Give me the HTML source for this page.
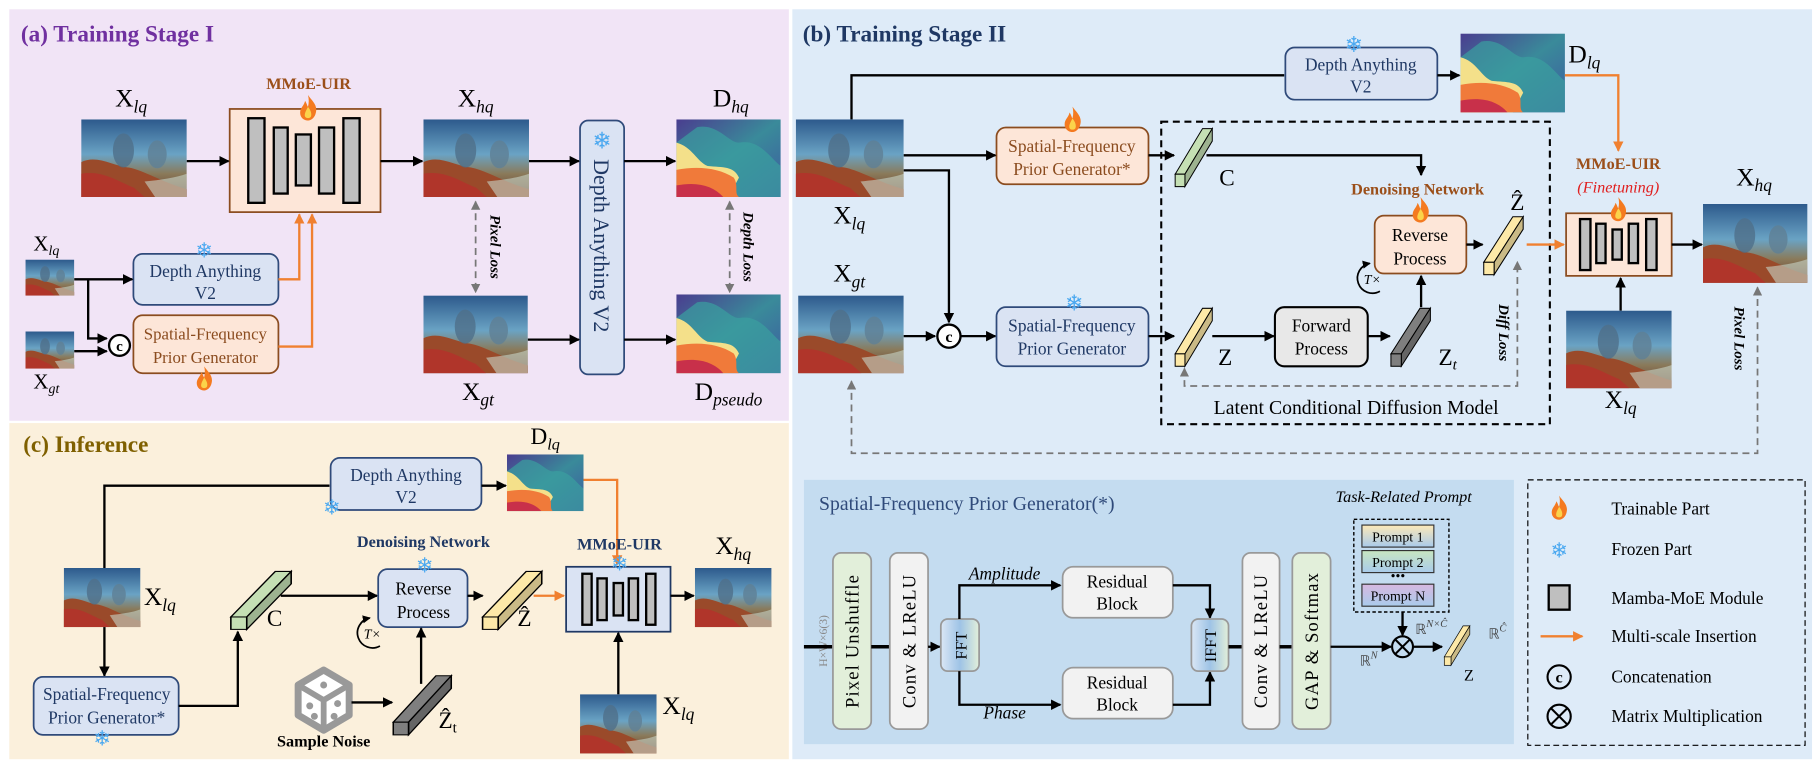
<!DOCTYPE html>
<html><head><meta charset="utf-8"><style>
html,body{margin:0;padding:0;background:#fff;}
svg{display:block;}
svg text,svg tspan{font-family:"Liberation Serif",serif;}
</style></head><body>
<svg width="1819" height="765" viewBox="0 0 1568 660" preserveAspectRatio="none" xmlns="http://www.w3.org/2000/svg" font-family="Liberation Serif, serif">
<defs>
<marker id="ab" markerWidth="9" markerHeight="9" refX="8" refY="4.5" orient="auto" markerUnits="userSpaceOnUse"><path d="M0,0 L9,4.5 L0,9 Z" fill="#000"/></marker>
<marker id="as" markerWidth="7" markerHeight="7" refX="6" refY="3.5" orient="auto" markerUnits="userSpaceOnUse"><path d="M0,0 L7,3.5 L0,7 Z" fill="#000"/></marker>
<marker id="ao" markerWidth="9" markerHeight="9" refX="8" refY="4.5" orient="auto" markerUnits="userSpaceOnUse"><path d="M0,0 L9,4.5 L0,9 Z" fill="#f08030"/></marker>
<marker id="ag" markerWidth="8" markerHeight="8" refX="7" refY="4" orient="auto" markerUnits="userSpaceOnUse"><path d="M0,0 L8,4 L0,8 Z" fill="#777"/></marker>
<marker id="ags" markerWidth="8" markerHeight="8" refX="1" refY="4" orient="auto" markerUnits="userSpaceOnUse"><path d="M8,0 L0,4 L8,8 Z" fill="#777"/></marker>
<linearGradient id="gw" x1="0" y1="0" x2="0" y2="1"><stop offset="0" stop-color="#2d5a8c"/><stop offset="0.45" stop-color="#6aa3c4"/><stop offset="0.7" stop-color="#8a7a5a"/><stop offset="1" stop-color="#6a3a2a"/></linearGradient>
<linearGradient id="gd" x1="0" y1="0" x2="1" y2="1"><stop offset="0" stop-color="#4a3d8f"/><stop offset="0.5" stop-color="#3a8a9a"/><stop offset="1" stop-color="#3d5aa0"/></linearGradient>
<linearGradient id="gbl" x1="0" y1="0" x2="1" y2="0"><stop offset="0" stop-color="#dbe7f5"/><stop offset="0.5" stop-color="#9ec3e6"/><stop offset="1" stop-color="#e2efda"/></linearGradient>
<linearGradient id="gp1" x1="0" y1="0" x2="0" y2="1"><stop offset="0" stop-color="#fde9b8"/><stop offset="1" stop-color="#a9cbeb"/></linearGradient>
<linearGradient id="gp2" x1="0" y1="0" x2="0" y2="1"><stop offset="0" stop-color="#c8e6c0"/><stop offset="1" stop-color="#a9cbeb"/></linearGradient>
<linearGradient id="gp3" x1="0" y1="0" x2="0" y2="1"><stop offset="0" stop-color="#d7b8e0"/><stop offset="1" stop-color="#a9cbeb"/></linearGradient>
<symbol id="uw" viewBox="0 0 100 100" preserveAspectRatio="none">
<rect width="100" height="100" fill="url(#gw)"/>
<path d="M0,55 C15,45 30,60 45,62 C60,66 75,80 100,90 L100,100 L0,100Z" fill="#9a4a2a"/>
<path d="M0,70 C20,65 35,80 50,88 L60,100 L0,100Z" fill="#b5302a" opacity="0.8"/>
<ellipse cx="40" cy="40" rx="10" ry="22" fill="#4f6f8a" opacity="0.8"/>
<ellipse cx="72" cy="45" rx="9" ry="18" fill="#5f7f95" opacity="0.8"/>
<path d="M60,80 C75,78 90,75 100,70 L100,100 L70,100Z" fill="#c8d6c8" opacity="0.6"/>
</symbol>
<symbol id="dp" viewBox="0 0 100 100" preserveAspectRatio="none">
<rect width="100" height="100" fill="url(#gd)"/>
<path d="M20,10 C40,5 50,30 60,30 C80,25 90,50 100,60 L100,100 L0,100 L0,30 Z" fill="#3aa0a0" opacity="0.7"/>
<path d="M0,30 C15,35 20,55 30,60 C45,62 55,60 60,75 L50,100 L0,100Z" fill="#f4e08a"/>
<path d="M0,65 C20,60 40,62 55,75 C60,85 55,95 60,100 L0,100Z" fill="#f07a3a"/>
<path d="M0,85 C20,80 35,85 45,100 L0,100Z" fill="#c8304a"/>
</symbol>
<symbol id="cub" viewBox="0 0 38 56" preserveAspectRatio="none" overflow="visible">
<polygon points="0,44 10,44 38,0 28,0" stroke="#000" stroke-width="1"/>
<polygon points="10,44 10,56 38,12 38,0" stroke="#000" stroke-width="1"/>
<polygon points="10,44 10,56 38,12 38,0" fill="#000" opacity="0.2"/>
<rect x="0" y="44" width="10" height="12" stroke="#000" stroke-width="1"/>
</symbol>
<symbol id="fl" viewBox="0 0 20 26">
<path d="M10 0 C14 6 20 10 18 18 C17 23 13 26 10 26 C6 26 2 23 2 18 C2 13 6 11 7 6 C9 9 9 11 10 12 C11 8 11 4 10 0Z" fill="#f47a20"/>
<path d="M10 12 C13 16 14 19 13 22 C12 24 8 24 7 22 C6 19 8 16 10 12Z" fill="#fbd34a"/>
</symbol>
</defs>

<rect x="8" y="8" width="672" height="355" fill="#f1e4f6"/>
<rect x="8" y="365" width="672" height="290" fill="#fbf0dc"/>
<rect x="683" y="8" width="879" height="647" fill="#deebf8"/>

<!-- ===== Panel a ===== -->
<text x="18" y="36" font-size="20" font-weight="bold" fill="#7030a0">(a) Training Stage I</text>
<text x="113" y="92" font-size="22" text-anchor="middle">X<tspan font-size="15" font-style="italic" dy="5">lq</tspan></text>
<use href="#uw" x="70" y="103" width="91" height="67"/>
<text x="266" y="77" font-size="14" font-weight="bold" fill="#9b4f1a" text-anchor="middle">MMoE-UIR</text>
<rect x="198" y="94" width="130" height="89" fill="#fde6d8" stroke="#8b4c1f" stroke-width="1.5"/>
<g fill="#bfbfbf" stroke="#000" stroke-width="2">
<rect x="214" y="102" width="14" height="73"/><rect x="236" y="110" width="12" height="57"/><rect x="255" y="116" width="13" height="44"/><rect x="275" y="110" width="13" height="57"/><rect x="296" y="102" width="14" height="73"/>
</g>
<use href="#fl" x="257" y="82" width="17" height="22"/>
<line x1="161" y1="139" x2="197" y2="139" stroke="#000" stroke-width="2" marker-end="url(#ab)"/>
<line x1="328" y1="139" x2="364" y2="139" stroke="#000" stroke-width="2" marker-end="url(#ab)"/>
<text x="410" y="92" font-size="22" text-anchor="middle">X<tspan font-size="15" font-style="italic" dy="5">hq</tspan></text>
<use href="#uw" x="365" y="103" width="91" height="67"/>
<rect x="500" y="104" width="38" height="219" rx="7" fill="#dae3f3" stroke="#2f4a7a" stroke-width="1.5"/>
<text x="519" y="128" font-size="20" fill="#4aa8f0" text-anchor="middle">❄</text>
<text transform="translate(512,212) rotate(90)" font-size="19" fill="#1f3864" text-anchor="middle">Depth Anything V2</text>
<line x1="456" y1="139" x2="499" y2="139" stroke="#000" stroke-width="2" marker-end="url(#ab)"/>
<line x1="538" y1="139" x2="582" y2="139" stroke="#000" stroke-width="2" marker-end="url(#ab)"/>
<text x="630" y="92" font-size="22" text-anchor="middle">D<tspan font-size="15" font-style="italic" dy="5">hq</tspan></text>
<use href="#dp" x="583" y="103" width="90" height="67"/>
<line x1="410" y1="174" x2="410" y2="252" stroke="#777" stroke-width="1.5" stroke-dasharray="6,4" marker-end="url(#ag)" marker-start="url(#ags)"/>
<text transform="translate(423,213) rotate(90)" font-size="13" font-weight="bold" font-style="italic" text-anchor="middle">Pixel Loss</text>
<line x1="629" y1="174" x2="629" y2="252" stroke="#777" stroke-width="1.5" stroke-dasharray="6,4" marker-end="url(#ag)" marker-start="url(#ags)"/>
<text transform="translate(641,213) rotate(90)" font-size="13" font-weight="bold" font-style="italic" text-anchor="middle">Depth Loss</text>
<use href="#uw" x="365" y="255" width="90" height="67"/>
<text x="412" y="345" font-size="22" text-anchor="middle">X<tspan font-size="15" font-style="italic" dy="5">gt</tspan></text>
<use href="#dp" x="583" y="254" width="90" height="68"/>
<text x="628" y="345" font-size="22" text-anchor="middle">D<tspan font-size="15" font-style="italic" dy="5">pseudo</tspan></text>
<line x1="455" y1="293" x2="499" y2="293" stroke="#000" stroke-width="2" marker-end="url(#ab)"/>
<line x1="538" y1="293" x2="582" y2="293" stroke="#000" stroke-width="2" marker-end="url(#ab)"/>
<text x="40" y="216" font-size="18" text-anchor="middle">X<tspan font-size="12" font-style="italic" dy="4">lq</tspan></text>
<use href="#uw" x="22" y="224" width="42" height="31"/>
<use href="#uw" x="22" y="286" width="42" height="32"/>
<text x="40" y="335" font-size="18" text-anchor="middle">X<tspan font-size="12" font-style="italic" dy="4">gt</tspan></text>
<rect x="115" y="219" width="125" height="44" rx="8" fill="#dae3f3" stroke="#2f4a7a" stroke-width="1.5"/>
<text x="177" y="239" font-size="15" fill="#1f3864" text-anchor="middle">Depth Anything</text>
<text x="177" y="258" font-size="15" fill="#1f3864" text-anchor="middle">V2</text>
<text x="176" y="222" font-size="18" fill="#4aa8f0" text-anchor="middle">❄</text>
<rect x="115" y="272" width="125" height="50" rx="8" fill="#fde6d8" stroke="#8b4c1f" stroke-width="1.5"/>
<text x="177" y="293" font-size="14.5" fill="#8b4c1f" text-anchor="middle">Spatial-Frequency</text>
<text x="177" y="313" font-size="14.5" fill="#8b4c1f" text-anchor="middle">Prior Generator</text>
<use href="#fl" x="168" y="316" width="16" height="21"/>
<polyline points="64,241 114,241" fill="none" stroke="#000" stroke-width="2" marker-end="url(#ab)"/>
<polyline points="76,241 76,292 92,292" fill="none" stroke="#000" stroke-width="2" marker-end="url(#ab)"/>
<line x1="64" y1="303" x2="92" y2="303" stroke="#000" stroke-width="2" marker-end="url(#ab)"/>
<circle cx="103" cy="298" r="9" fill="#fff" stroke="#000" stroke-width="2"/>
<text x="103" y="303" font-size="13" font-weight="bold" text-anchor="middle">c</text>
<polyline points="240,241 258,241 258,185" fill="none" stroke="#f08030" stroke-width="2" marker-end="url(#ao)"/>
<polyline points="240,299 269,299 269,185" fill="none" stroke="#f08030" stroke-width="2" marker-end="url(#ao)"/>

<!-- ===== Panel b ===== -->
<text x="692" y="36" font-size="20" font-weight="bold" fill="#1f3864">(b) Training Stage II</text>
<polyline points="734,103 734,65 1107,65" fill="none" stroke="#000" stroke-width="2"/>
<rect x="1108" y="41" width="131" height="45" rx="8" fill="#dae3f3" stroke="#2f4a7a" stroke-width="1.5"/>
<text x="1173" y="61" font-size="15" fill="#1f3864" text-anchor="middle">Depth Anything</text>
<text x="1173" y="80" font-size="15" fill="#1f3864" text-anchor="middle">V2</text>
<text x="1167" y="45" font-size="19" fill="#4aa8f0" text-anchor="middle">❄</text>
<line x1="1239" y1="65" x2="1258" y2="65" stroke="#000" stroke-width="2" marker-end="url(#ab)"/>
<use href="#dp" x="1259" y="29" width="90" height="68"/>
<text x="1352" y="54" font-size="22">D<tspan font-size="15" font-style="italic" dy="5">lq</tspan></text>
<polyline points="1349,65 1395,65 1395,130" fill="none" stroke="#f08030" stroke-width="2" marker-end="url(#ao)"/>
<use href="#uw" x="686" y="103" width="93" height="67"/>
<text x="732" y="193" font-size="22" text-anchor="middle">X<tspan font-size="15" font-style="italic" dy="5">lq</tspan></text>
<rect x="859" y="110" width="131" height="49" rx="8" fill="#fde6d8" stroke="#8b4c1f" stroke-width="1.5"/>
<text x="924" y="131" font-size="15" fill="#8b4c1f" text-anchor="middle">Spatial-Frequency</text>
<text x="924" y="151" font-size="15" fill="#8b4c1f" text-anchor="middle">Prior Generator*</text>
<use href="#fl" x="916" y="92" width="17" height="22"/>
<line x1="779" y1="134" x2="858" y2="134" stroke="#000" stroke-width="2" marker-end="url(#ab)"/>
<polyline points="779,147 818,147 818,278" fill="none" stroke="#000" stroke-width="2" marker-end="url(#ab)"/>
<text x="732" y="243" font-size="22" text-anchor="middle">X<tspan font-size="15" font-style="italic" dy="5">gt</tspan></text>
<use href="#uw" x="688" y="255" width="91" height="67"/>
<line x1="779" y1="290" x2="806" y2="290" stroke="#000" stroke-width="2" marker-end="url(#ab)"/>
<circle cx="818" cy="290" r="10" fill="#fff" stroke="#000" stroke-width="2"/>
<text x="818" y="295" font-size="14" font-weight="bold" text-anchor="middle">c</text>
<line x1="828" y1="290" x2="858" y2="290" stroke="#000" stroke-width="2" marker-end="url(#ab)"/>
<rect x="859" y="265" width="131" height="51" rx="8" fill="#dae3f3" stroke="#2f4a7a" stroke-width="1.5"/>
<text x="924" y="286" font-size="15" fill="#1f3864" text-anchor="middle">Spatial-Frequency</text>
<text x="924" y="306" font-size="15" fill="#1f3864" text-anchor="middle">Prior Generator</text>
<text x="926" y="268" font-size="19" fill="#4aa8f0" text-anchor="middle">❄</text>
<rect x="1001" y="105" width="335" height="261" fill="none" stroke="#000" stroke-width="1.8" stroke-dasharray="6,4"/>
<text x="1169" y="357" font-size="17" text-anchor="middle">Latent Conditional Diffusion Model</text>
<line x1="990" y1="134" x2="1012" y2="134" stroke="#000" stroke-width="2" marker-end="url(#ab)"/>
<use href="#cub" x="1013" y="111" width="32" height="50" fill="#c5e0b4"/>
<text x="1051" y="160" font-size="20">C</text>
<polyline points="1040,134 1225,134 1225,151" fill="none" stroke="#000" stroke-width="2" marker-end="url(#ab)"/>
<text x="1222" y="168" font-size="14" font-weight="bold" fill="#9b4f1a" text-anchor="middle">Denoising Network</text>
<rect x="1185" y="186" width="79" height="50" rx="8" fill="#fde6d8" stroke="#8b4c1f" stroke-width="1.5"/>
<text x="1224" y="208" font-size="15" text-anchor="middle">Reverse</text>
<text x="1224" y="228" font-size="15" text-anchor="middle">Process</text>
<use href="#fl" x="1216" y="170" width="17" height="22"/>
<path d="M1189.5,251.3 A13,13 0 1,1 1180.7,227.2" fill="none" stroke="#000" stroke-width="1.5" marker-end="url(#as)"/>
<text x="1183" y="245" font-size="12" font-style="italic" text-anchor="middle">T×</text>
<line x1="1264" y1="211" x2="1278" y2="211" stroke="#000" stroke-width="2" marker-end="url(#ab)"/>
<use href="#cub" x="1279" y="187" width="34" height="50" fill="#fde9a8"/>
<text x="1308" y="181" font-size="20" text-anchor="middle">Ẑ</text>
<line x1="1316" y1="211" x2="1348" y2="211" stroke="#f08030" stroke-width="2" marker-end="url(#ao)"/>
<line x1="990" y1="290" x2="1012" y2="290" stroke="#000" stroke-width="2" marker-end="url(#ab)"/>
<use href="#cub" x="1013" y="266" width="32" height="50" fill="#fde9a8"/>
<text x="1050" y="315" font-size="20">Z</text>
<line x1="1045" y1="290" x2="1098" y2="290" stroke="#000" stroke-width="2" marker-end="url(#ab)"/>
<rect x="1099" y="265" width="80" height="51" rx="8" fill="#e8e8e8" stroke="#000" stroke-width="1.8"/>
<text x="1139" y="286" font-size="15" text-anchor="middle">Forward</text>
<text x="1139" y="306" font-size="15" text-anchor="middle">Process</text>
<line x1="1179" y1="290" x2="1198" y2="290" stroke="#000" stroke-width="2" marker-end="url(#ab)"/>
<use href="#cub" x="1199" y="266" width="34" height="50" fill="#7f7f7f"/>
<text x="1240" y="315" font-size="20">Z<tspan font-size="13" font-style="italic" dy="4">t</tspan></text>
<line x1="1225" y1="265" x2="1225" y2="238" stroke="#000" stroke-width="2" marker-end="url(#ab)"/>
<polyline points="1021,318 1021,333 1308,333 1308,226" fill="none" stroke="#777" stroke-width="1.5" stroke-dasharray="6,4" marker-end="url(#ag)" marker-start="url(#ags)"/>
<text transform="translate(1292,287) rotate(90)" font-size="13" font-weight="bold" font-style="italic" text-anchor="middle">Diff Loss</text>
<text x="1395" y="146" font-size="14" font-weight="bold" fill="#9b4f1a" text-anchor="middle">MMoE-UIR</text>
<text x="1395" y="166" font-size="14" font-style="italic" fill="#e02020" text-anchor="middle">(Finetuning)</text>
<rect x="1350" y="184" width="91" height="54" fill="#fde6d8" stroke="#8b4c1f" stroke-width="1.5"/>
<g fill="#bfbfbf" stroke="#000" stroke-width="2">
<rect x="1362" y="189" width="9" height="44"/><rect x="1376" y="193" width="8" height="34"/><rect x="1390" y="198" width="8" height="26"/><rect x="1404" y="193" width="8" height="34"/><rect x="1419" y="189" width="9" height="44"/>
</g>
<use href="#fl" x="1387" y="170" width="16" height="21"/>
<line x1="1441" y1="211" x2="1467" y2="211" stroke="#000" stroke-width="2" marker-end="url(#ab)"/>
<use href="#uw" x="1468" y="176" width="90" height="68"/>
<text x="1512" y="160" font-size="22" text-anchor="middle">X<tspan font-size="15" font-style="italic" dy="5">hq</tspan></text>
<use href="#uw" x="1350" y="268" width="91" height="67"/>
<text x="1397" y="352" font-size="22" text-anchor="middle">X<tspan font-size="15" font-style="italic" dy="5">lq</tspan></text>
<line x1="1397" y1="268" x2="1397" y2="240" stroke="#000" stroke-width="2" marker-end="url(#ab)"/>
<polyline points="734,329 734,391 1515,391 1515,248" fill="none" stroke="#777" stroke-width="1.5" stroke-dasharray="6,4" marker-end="url(#ag)" marker-start="url(#ags)"/>
<text transform="translate(1495,292) rotate(90)" font-size="13" font-weight="bold" font-style="italic" text-anchor="middle">Pixel Loss</text>

<!-- SFPG sub panel -->
<rect x="693" y="414" width="612" height="228" fill="#c4dcf0"/>
<text x="706" y="440" font-size="17" fill="#2f4a7a">Spatial-Frequency Prior Generator(*)</text>
<text transform="translate(713,553) rotate(-90)" font-size="10" fill="#888" text-anchor="middle">H×W×6(3)</text>
<line x1="693" y1="558" x2="718" y2="558" stroke="#000" stroke-width="3"/>
<rect x="718" y="477" width="33" height="152" rx="7" fill="#e2efda" stroke="#999" stroke-width="1.5"/>
<text transform="translate(740,553) rotate(-90)" font-size="16" text-anchor="middle" letter-spacing="1">Pixel Unshuffle</text>
<line x1="751" y1="558" x2="767" y2="558" stroke="#000" stroke-width="3"/>
<rect x="767" y="477" width="33" height="152" rx="7" fill="#f2f2f2" stroke="#999" stroke-width="1.5"/>
<text transform="translate(789,553) rotate(-90)" font-size="16" text-anchor="middle" letter-spacing="1">Conv &amp; LReLU</text>
<line x1="800" y1="558" x2="810" y2="558" stroke="#000" stroke-width="2" marker-end="url(#ab)"/>
<rect x="811" y="534" width="33" height="45" rx="6" fill="url(#gbl)" stroke="#999" stroke-width="1.5"/>
<text transform="translate(833,557) rotate(-90)" font-size="14" text-anchor="middle">FFT</text>
<polyline points="827,534 827,505 914,505" fill="none" stroke="#000" stroke-width="2" marker-end="url(#ab)"/>
<polyline points="827,579 827,608 914,608" fill="none" stroke="#000" stroke-width="2" marker-end="url(#ab)"/>
<text x="866" y="500" font-size="15" font-style="italic" text-anchor="middle">Amplitude</text>
<text x="866" y="620" font-size="15" font-style="italic" text-anchor="middle">Phase</text>
<rect x="916" y="489" width="95" height="44" rx="9" fill="#f2f2f2" stroke="#999" stroke-width="1.5"/>
<text x="963" y="507" font-size="15" text-anchor="middle">Residual</text>
<text x="963" y="526" font-size="15" text-anchor="middle">Block</text>
<rect x="916" y="576" width="95" height="44" rx="9" fill="#f2f2f2" stroke="#999" stroke-width="1.5"/>
<text x="963" y="594" font-size="15" text-anchor="middle">Residual</text>
<text x="963" y="613" font-size="15" text-anchor="middle">Block</text>
<polyline points="1011,505 1043,505 1043,533" fill="none" stroke="#000" stroke-width="2" marker-end="url(#ab)"/>
<polyline points="1011,608 1043,608 1043,580" fill="none" stroke="#000" stroke-width="2" marker-end="url(#ab)"/>
<rect x="1027" y="534" width="32" height="45" rx="6" fill="url(#gbl)" stroke="#999" stroke-width="1.5"/>
<text transform="translate(1048,557) rotate(-90)" font-size="14" text-anchor="middle">IFFT</text>
<line x1="1059" y1="558" x2="1071" y2="558" stroke="#000" stroke-width="3"/>
<rect x="1071" y="477" width="32" height="152" rx="7" fill="#f2f2f2" stroke="#999" stroke-width="1.5"/>
<text transform="translate(1092,553) rotate(-90)" font-size="16" text-anchor="middle" letter-spacing="1">Conv &amp; LReLU</text>
<line x1="1103" y1="558" x2="1114" y2="558" stroke="#000" stroke-width="3"/>
<rect x="1114" y="477" width="33" height="152" rx="7" fill="#e2efda" stroke="#999" stroke-width="1.5"/>
<text transform="translate(1136,553) rotate(-90)" font-size="16" text-anchor="middle" letter-spacing="1">GAP &amp; Softmax</text>
<line x1="1147" y1="558" x2="1199" y2="558" stroke="#000" stroke-width="2" marker-end="url(#ab)"/>
<text x="1172" y="574" font-size="12" fill="#444">ℝ<tspan font-size="9" font-style="italic" dy="-6">N</tspan></text>
<text x="1210" y="433" font-size="14" font-style="italic" text-anchor="middle">Task-Related Prompt</text>
<rect x="1167" y="448" width="82" height="80" fill="none" stroke="#000" stroke-width="1.2" stroke-dasharray="3,2"/>
<rect x="1174" y="453" width="62" height="19" fill="url(#gp1)" stroke="#333"/>
<text x="1205" y="467" font-size="12" text-anchor="middle">Prompt 1</text>
<rect x="1174" y="475" width="62" height="19" fill="url(#gp2)" stroke="#333"/>
<text x="1205" y="489" font-size="12" text-anchor="middle">Prompt 2</text>
<text x="1205" y="501" font-size="12" text-anchor="middle">•••</text>
<rect x="1174" y="504" width="62" height="19" fill="url(#gp3)" stroke="#333"/>
<text x="1205" y="518" font-size="12" text-anchor="middle">Prompt N</text>
<line x1="1209" y1="528" x2="1209" y2="548" stroke="#000" stroke-width="2" marker-end="url(#ab)"/>
<text x="1220" y="547" font-size="12" fill="#444">ℝ<tspan font-size="9" font-style="italic" dy="-6">N×Ĉ</tspan></text>
<circle cx="1209" cy="558" r="9" fill="none" stroke="#000" stroke-width="1.8"/>
<path d="M1203,552 L1215,564 M1215,552 L1203,564" stroke="#000" stroke-width="1.8"/>
<line x1="1218" y1="558" x2="1243" y2="558" stroke="#000" stroke-width="2" marker-end="url(#ab)"/>
<use href="#cub" x="1245" y="540" width="22" height="34" fill="#fde9a8"/>
<text x="1262" y="587" font-size="14">Z</text>
<text x="1283" y="551" font-size="12" fill="#444">ℝ<tspan font-size="9" font-style="italic" dy="-6">Ĉ</tspan></text>

<!-- legend -->
<rect x="1317" y="414" width="239" height="229" fill="none" stroke="#000" stroke-width="1" stroke-dasharray="5,3"/>
<use href="#fl" x="1336" y="427" width="16" height="22"/>
<text x="1389" y="444" font-size="15">Trainable Part</text>
<text x="1344" y="481" font-size="18" fill="#4aa8f0" text-anchor="middle">❄</text>
<text x="1389" y="479" font-size="15">Frozen Part</text>
<rect x="1335" y="505" width="18" height="21" fill="#bfbfbf" stroke="#000" stroke-width="2"/>
<text x="1389" y="521" font-size="15">Mamba-MoE Module</text>
<line x1="1328" y1="549" x2="1364" y2="549" stroke="#f08030" stroke-width="2" marker-end="url(#ao)"/>
<text x="1389" y="554" font-size="15">Multi-scale Insertion</text>
<circle cx="1344" cy="584" r="10" fill="none" stroke="#000" stroke-width="1.8"/>
<text x="1344" y="589" font-size="14" font-weight="bold" text-anchor="middle">c</text>
<text x="1389" y="589" font-size="15">Concatenation</text>
<circle cx="1344" cy="618" r="10" fill="none" stroke="#000" stroke-width="1.8"/>
<path d="M1337,611 L1351,625 M1351,611 L1337,625" stroke="#000" stroke-width="1.8"/>
<text x="1389" y="623" font-size="15">Matrix Multiplication</text>

<!-- ===== Panel c ===== -->
<text x="20" y="390" font-size="20" font-weight="bold" fill="#7f6000">(c) Inference</text>
<polyline points="90,490 90,419 284,419" fill="none" stroke="#000" stroke-width="2"/>
<rect x="285" y="395" width="130" height="45" rx="8" fill="#dae3f3" stroke="#2f4a7a" stroke-width="1.5"/>
<text x="350" y="415" font-size="15" fill="#1f3864" text-anchor="middle">Depth Anything</text>
<text x="350" y="434" font-size="15" fill="#1f3864" text-anchor="middle">V2</text>
<text x="286" y="444" font-size="18" fill="#4aa8f0" text-anchor="middle">❄</text>
<line x1="415" y1="419" x2="436" y2="419" stroke="#000" stroke-width="2" marker-end="url(#ab)"/>
<use href="#dp" x="437" y="392" width="66" height="49"/>
<text x="470" y="383" font-size="20" text-anchor="middle">D<tspan font-size="14" font-style="italic" dy="5">lq</tspan></text>
<polyline points="503,414 532,414 532,487" fill="none" stroke="#f08030" stroke-width="2" marker-end="url(#ao)"/>
<use href="#uw" x="55" y="490" width="66" height="51"/>
<text x="124" y="522" font-size="22">X<tspan font-size="15" font-style="italic" dy="5">lq</tspan></text>
<line x1="90" y1="541" x2="90" y2="583" stroke="#000" stroke-width="2" marker-end="url(#ab)"/>
<rect x="29" y="584" width="125" height="50" rx="8" fill="#dae3f3" stroke="#2f4a7a" stroke-width="1.5"/>
<text x="92" y="604" font-size="15" fill="#1f3864" text-anchor="middle">Spatial-Frequency</text>
<text x="92" y="624" font-size="15" fill="#1f3864" text-anchor="middle">Prior Generator*</text>
<text x="88" y="643" font-size="18" fill="#4aa8f0" text-anchor="middle">❄</text>
<polyline points="154,609 205,609 205,545" fill="none" stroke="#000" stroke-width="2" marker-end="url(#ab)"/>
<use href="#cub" x="199" y="493" width="52" height="50" fill="#c5e0b4"/>
<text x="230" y="540" font-size="20">C</text>
<line x1="242" y1="514" x2="325" y2="514" stroke="#000" stroke-width="2" marker-end="url(#ab)"/>
<text x="365" y="472" font-size="14" font-weight="bold" fill="#1f3864" text-anchor="middle">Denoising Network</text>
<rect x="326" y="491" width="77" height="50" rx="8" fill="#dae3f3" stroke="#2f4a7a" stroke-width="1.5"/>
<text x="365" y="513" font-size="15" text-anchor="middle">Reverse</text>
<text x="365" y="533" font-size="15" text-anchor="middle">Process</text>
<text x="366" y="494" font-size="18" fill="#4aa8f0" text-anchor="middle">❄</text>
<path d="M327.5,557.3 A13,13 0 1,1 318.7,533.2" fill="none" stroke="#000" stroke-width="1.5" marker-end="url(#as)"/>
<text x="321" y="551" font-size="12" font-style="italic" text-anchor="middle">T×</text>
<line x1="403" y1="514" x2="416" y2="514" stroke="#000" stroke-width="2" marker-end="url(#ab)"/>
<use href="#cub" x="416" y="493" width="51" height="50" fill="#fde9a8"/>
<text x="446" y="540" font-size="20">Ẑ</text>
<line x1="460" y1="514" x2="486" y2="514" stroke="#f08030" stroke-width="2" marker-end="url(#ao)"/>
<text x="534" y="474" font-size="14" font-weight="bold" fill="#1f3864" text-anchor="middle">MMoE-UIR</text>
<rect x="488" y="489" width="90" height="56" fill="#dae3f3" stroke="#1f3864" stroke-width="1.5"/>
<g fill="#bfbfbf" stroke="#000" stroke-width="2">
<rect x="502" y="495" width="8" height="44"/><rect x="515" y="499" width="8" height="36"/><rect x="529" y="503" width="8" height="28"/><rect x="542" y="499" width="8" height="36"/><rect x="557" y="495" width="8" height="44"/>
</g>
<text x="534" y="492" font-size="18" fill="#4aa8f0" text-anchor="middle">❄</text>
<line x1="578" y1="514" x2="598" y2="514" stroke="#000" stroke-width="2" marker-end="url(#ab)"/>
<use href="#uw" x="599" y="490" width="66" height="51"/>
<text x="632" y="478" font-size="22" text-anchor="middle">X<tspan font-size="15" font-style="italic" dy="5">hq</tspan></text>
<use href="#uw" x="500" y="599" width="66" height="51"/>
<text x="571" y="616" font-size="22">X<tspan font-size="15" font-style="italic" dy="5">lq</tspan></text>
<line x1="533" y1="599" x2="533" y2="546" stroke="#000" stroke-width="2" marker-end="url(#ab)"/>
<g transform="translate(279,604)">
<polygon points="0,-26 22,-13 22,13 0,26 -22,13 -22,-13" fill="#fff" stroke="#999" stroke-width="6" stroke-linejoin="round"/>
<path d="M-22,-13 L0,0 L22,-13 M0,0 L0,26" stroke="#999" stroke-width="5" fill="none"/>
<circle cx="0" cy="-13" r="3" fill="#999"/><circle cx="-12" cy="5" r="3" fill="#999"/><circle cx="-8" cy="14" r="3" fill="#999"/><circle cx="12" cy="3" r="3" fill="#999"/><circle cx="9" cy="14" r="3" fill="#999"/>
</g>
<text x="279" y="644" font-size="14" font-weight="bold" text-anchor="middle">Sample Noise</text>
<line x1="303" y1="606" x2="338" y2="606" stroke="#000" stroke-width="2" marker-end="url(#ab)"/>
<use href="#cub" x="339" y="583" width="50" height="51" fill="#7f7f7f"/>
<text x="378" y="628" font-size="20">Ẑ<tspan font-size="13" dy="4">t</tspan></text>
<line x1="363" y1="590" x2="363" y2="542" stroke="#000" stroke-width="2" marker-end="url(#ab)"/>
</svg>
</body></html>
